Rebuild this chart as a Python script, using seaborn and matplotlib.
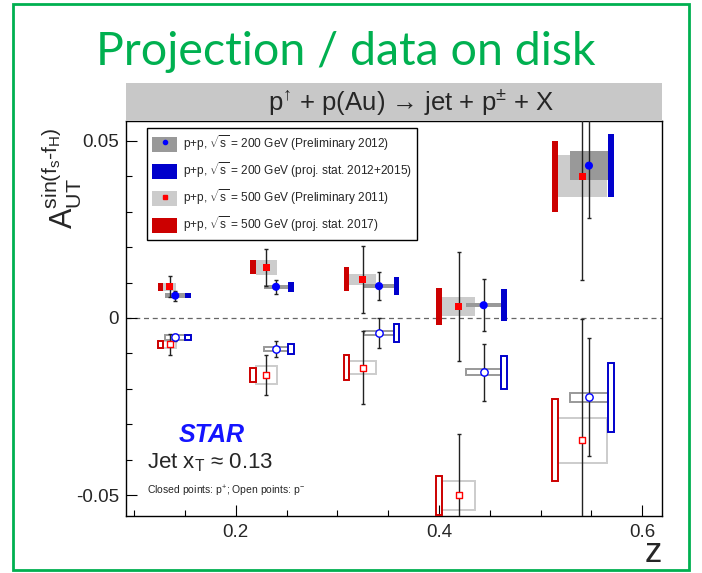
import numpy as np
import pandas as pd
import matplotlib
matplotlib.use("Agg")
import matplotlib.pyplot as plt
from matplotlib.patches import Rectangle, Patch
from matplotlib.lines import Line2D
from matplotlib.ticker import MultipleLocator, FixedLocator, FixedFormatter
import seaborn as sns

# ---------------- data ----------------
z_200 = [0.1405, 0.2396, 0.341, 0.444, 0.5476]
z_500 = [0.135, 0.2302, 0.325, 0.4193, 0.5411]

# 200 GeV, preliminary 2012, pi+ (closed)
a200_pos = [0.0063, 0.0088, 0.0090, 0.0036, 0.0430]
a200_pos_stat = [0.0014, 0.0020, 0.0040, 0.0074, 0.0148]
a200_pos_syst = [0.0007, 0.0006, 0.0006, 0.0006, 0.0041]
a200_pos_proj = [0.0007, 0.0014, 0.0025, 0.0045, 0.0089]
# 200 GeV, pi- (open)
a200_neg = [-0.0055, -0.0088, -0.0043, -0.0153, -0.0224]
a200_neg_stat = [0.0011, 0.0022, 0.0042, 0.0080, 0.0167]
a200_neg_syst = [0.0006, 0.0006, 0.0005, 0.0008, 0.0012]
a200_neg_proj = [0.0007, 0.0014, 0.0025, 0.0047, 0.0097]
z200_syst_width = [0.0195, 0.0237, 0.0286, 0.0341, 0.0380]

# 500 GeV, preliminary 2011, pi+ (closed)
a500_pos = [0.0088, 0.0143, 0.0109, 0.0032, 0.0400]
a500_pos_stat = [0.0030, 0.0052, 0.0095, 0.0154, 0.0292]
a500_pos_syst = [0.0011, 0.0021, 0.0016, 0.0027, 0.0059]
a500_pos_proj = [0.0011, 0.0020, 0.0034, 0.0053, 0.0100]
# 500 GeV, pi- (open)
a500_neg = [-0.0074, -0.0161, -0.0140, -0.0501, -0.0345]
a500_neg_stat = [0.0030, 0.0056, 0.0102, 0.0173, 0.0343]
a500_neg_syst = [0.0010, 0.0025, 0.0018, 0.0041, 0.0064]
a500_neg_proj = [0.0010, 0.0020, 0.0035, 0.0056, 0.0116]
z500_syst_width = [0.0127, 0.0205, 0.0263, 0.0331, 0.0487]

legend_labels = [
    r"p+p, $\sqrt{\mathrm{s}}$ = 200 GeV (Preliminary 2012)",
    r"p+p, $\sqrt{\mathrm{s}}$ = 200 GeV (proj. stat. 2012+2015)",
    r"p+p, $\sqrt{\mathrm{s}}$ = 500 GeV (Preliminary 2011)",
    r"p+p, $\sqrt{\mathrm{s}}$ = 500 GeV (proj. stat. 2017)",
]
x_ticks = [0.2, 0.4, 0.6]
x_ticklabels = ["0.2", "0.4", "0.6"]
y_ticks = [-0.05, 0.0, 0.05]
y_ticklabels = ["-0.05", "0", "0.05"]

# ---------------- style ----------------
sns.set_style("ticks")
plt.rcParams["font.family"] = ["Liberation Sans", "DejaVu Sans"]
plt.rcParams["mathtext.fontset"] = "custom"
plt.rcParams["mathtext.rm"] = "Liberation Sans"
plt.rcParams["mathtext.it"] = "Liberation Sans:italic"
plt.rcParams["mathtext.bf"] = "Liberation Sans:bold"
plt.rcParams["axes.unicode_minus"] = False

W, H = 702, 573
def fx(px): return px / W
def fy(py): return 1 - py / H

C_BLUE_PT = "#0000ff"
C_RED_PT = "#ff0000"
C_BLUE_BAR = "#0000cc"
C_RED_BAR = "#cc0000"
C_DGREY = "#999999"
C_LGREY = "#cccccc"
GREEN = "#00b050"

fig = plt.figure(figsize=(W / 100, H / 100), dpi=100)
fig.patch.set_facecolor("white")

# green slide frame + title
fig.patches.append(Rectangle((fx(13), fy(570)), fx(689) - fx(13), fy(4) - fy(570),
                             transform=fig.transFigure, fill=False, ec=GREEN, lw=2))
fig.text(fx(96), fy(65), "Projection / data on disk", family=["Lato", "DejaVu Sans"],
         fontsize=33.5, color=GREEN, va="baseline", ha="left")

# header band
fig.patches.append(Rectangle((fx(126), fy(121)), fx(662) - fx(126), fy(83) - fy(121),
                             transform=fig.transFigure, fc="#c8c8c8", ec="none"))
fig.text(fx(411), fy(102), "p$^{↑}$ + p(Au) → jet + p$^{±}$ + X", fontsize=18.5,
         ha="center", va="center")

ax = fig.add_axes([fx(126), fy(516), (662 - 126) / W, (516 - 121) / H])
ax.set_xlim(0.092, 0.6195)
ax.set_ylim(-0.0559, 0.0556)

barw = 0.0055
lw_open = 1.4

def sub(a, b):
    return [x - y for x, y in zip(a, b)]

def add(a, b):
    return [x + y for x, y in zip(a, b)]

def twice(a):
    return [2 * v for v in a]

def half(a):
    return [v / 2 for v in a]

# systematic boxes, 500 GeV (light grey)
ax.bar(z_500, twice(a500_pos_syst), bottom=sub(a500_pos, a500_pos_syst), width=z500_syst_width,
       color=C_LGREY, ec="none", zorder=1)
ax.bar(z_500, twice(a500_neg_syst), bottom=sub(a500_neg, a500_neg_syst), width=z500_syst_width,
       fc="none", ec=C_LGREY, lw=lw_open, zorder=1)
# systematic boxes, 200 GeV (dark grey)
ax.bar(z_200, twice(a200_pos_syst), bottom=sub(a200_pos, a200_pos_syst), width=z200_syst_width,
       color=C_DGREY, ec="none", zorder=2)
ax.bar(z_200, twice(a200_neg_syst), bottom=sub(a200_neg, a200_neg_syst), width=z200_syst_width,
       fc="none", ec=C_DGREY, lw=lw_open, zorder=2)

# projected statistical uncertainties
x_red_proj = sub(z_500, add(half(z500_syst_width), [barw / 2] * 5))
x_blue_proj = add(z_200, add(half(z200_syst_width), [barw / 2] * 5))
ax.bar(x_red_proj, twice(a500_pos_proj), bottom=sub(a500_pos, a500_pos_proj), width=barw,
       color=C_RED_BAR, ec="none", zorder=3)
ax.bar(x_red_proj, twice(a500_neg_proj), bottom=sub(a500_neg, a500_neg_proj), width=barw,
       fc="none", ec=C_RED_BAR, lw=lw_open, zorder=3)
ax.bar(x_blue_proj, twice(a200_pos_proj), bottom=sub(a200_pos, a200_pos_proj), width=barw,
       color=C_BLUE_BAR, ec="none", zorder=3)
ax.bar(x_blue_proj, twice(a200_neg_proj), bottom=sub(a200_neg, a200_neg_proj), width=barw,
       fc="none", ec=C_BLUE_BAR, lw=lw_open, zorder=3)

# zero line
ax.axhline(0, color="#666666", lw=0.9, ls=(0, (4, 3)), zorder=0.5)

# statistical error bars
for zz, yy, ee in [(z_500, a500_pos, a500_pos_stat), (z_500, a500_neg, a500_neg_stat),
                   (z_200, a200_pos, a200_pos_stat), (z_200, a200_neg, a200_neg_stat)]:
    ax.errorbar(zz, yy, yerr=ee, fmt="none", ecolor="#222222", elinewidth=1.0,
                capsize=1.5, capthick=1.0, zorder=4)

# points
sns.scatterplot(x=z_500, y=a500_pos, marker="s", s=28, color=C_RED_PT, edgecolor="none",
                ax=ax, zorder=5, legend=False)
sns.scatterplot(x=z_500, y=a500_neg, marker="s", s=24, color="white", edgecolor=C_RED_PT,
                linewidth=1.0, ax=ax, zorder=5, legend=False)
sns.scatterplot(x=z_200, y=a200_pos, marker="o", s=34, color=C_BLUE_PT, edgecolor="none",
                ax=ax, zorder=5, legend=False)
sns.scatterplot(x=z_200, y=a200_neg, marker="o", s=28, color="white", edgecolor=C_BLUE_PT,
                linewidth=1.0, ax=ax, zorder=5, legend=False)

# axes formatting
ax.xaxis.set_major_locator(FixedLocator(x_ticks))
ax.xaxis.set_major_formatter(FixedFormatter(x_ticklabels))
ax.xaxis.set_minor_locator(MultipleLocator(0.05))
ax.yaxis.set_major_locator(FixedLocator(y_ticks))
ax.yaxis.set_major_formatter(FixedFormatter(y_ticklabels))
ax.yaxis.set_minor_locator(MultipleLocator(0.01))
ax.tick_params(which="both", direction="in", color="black", width=0.8, labelsize=13.5)
ax.tick_params(which="major", length=8)
ax.tick_params(which="minor", length=4.3)
ax.tick_params(axis="x", pad=6)
ax.tick_params(axis="y", pad=5)
for s in ax.spines.values():
    s.set_linewidth(1.0)
    s.set_color("black")

ax.set_xlabel("z", fontsize=25)
ax.xaxis.set_label_coords(1.0, (516 - 562) / 395)
ax.xaxis.label.set_ha("right")
ax.xaxis.label.set_va("baseline")

ax.set_ylabel(r"$\mathrm{A}_{\mathrm{UT}}^{\mathrm{sin(f_{s}\text{-}f_{H})}}$", fontsize=22)
ax.yaxis.set_label_coords((84 - 126) / 536, (516 - 127) / 395)
ax.yaxis.label.set_ha("right")

# legend
handles = [
    (Patch(fc=C_DGREY, ec="none"), Line2D([], [], marker="o", ls="none", color=C_BLUE_PT, markersize=3)),
    Patch(fc=C_BLUE_BAR, ec="none"),
    (Patch(fc=C_LGREY, ec="none"), Line2D([], [], marker="s", ls="none", color=C_RED_PT, markersize=3)),
    Patch(fc=C_RED_BAR, ec="none"),
]
leg = ax.legend(handles, legend_labels, loc="upper left",
                bbox_to_anchor=((146.7 - 126) / 536, (516 - 128) / 395), borderaxespad=0,
                fontsize=8.6, fancybox=False, framealpha=1, edgecolor="black",
                handlelength=2.1, handleheight=1.6, labelspacing=0.62,
                handletextpad=0.45, borderpad=0.45)
leg.get_frame().set_linewidth(1.0)
leg.set_zorder(10)

# annotations
fig.text(fx(179), fy(442), "STAR", fontsize=18, fontweight="bold", style="italic",
         color="#1414ff", va="baseline")
fig.text(fx(147), fy(468), r"Jet x$_{\mathrm{T}}$ ≈ 0.13", fontsize=16, va="baseline")
fig.text(fx(147), fy(495), r"Closed points: p$^{+}$; Open points: p$^{-}$", fontsize=7.5,
         va="baseline")

fig.savefig("out.png", dpi=100)
